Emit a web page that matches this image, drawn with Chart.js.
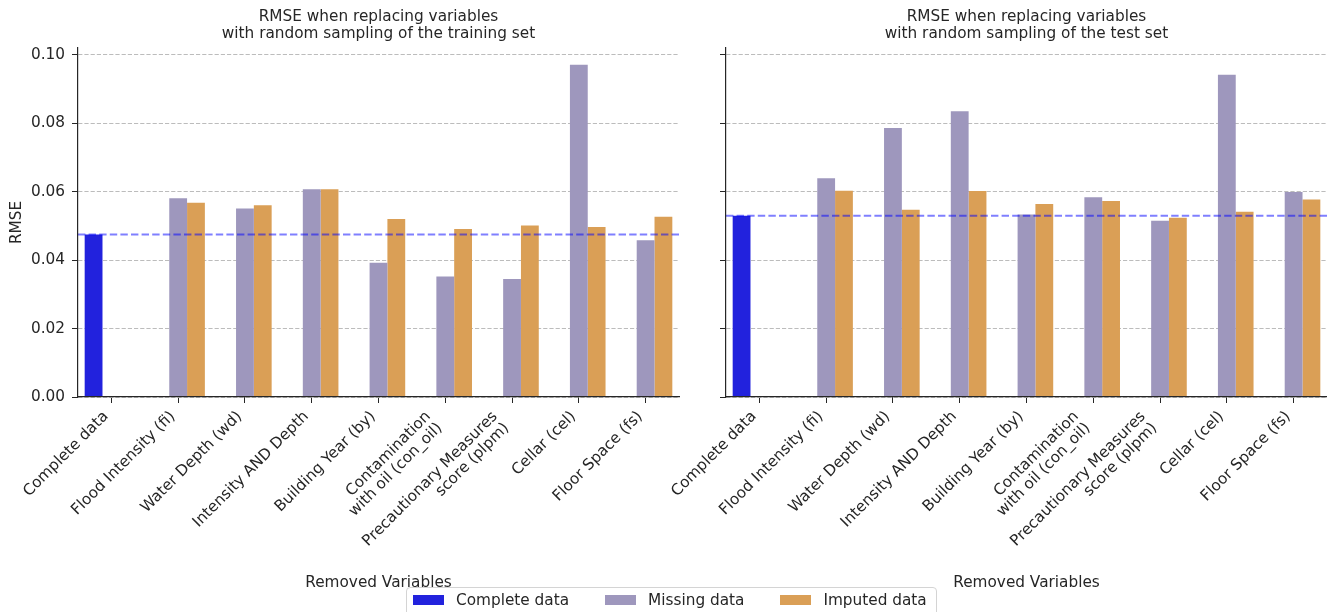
<!DOCTYPE html>
<html>
<head>
<meta charset="utf-8">
<script src="https://cdn.jsdelivr.net/npm/chart.js@4.4.0/dist/chart.umd.min.js"></script>
<style>
  html, body { margin: 0; padding: 0; background: #fff; }
  body { width: 1327px; height: 612px; overflow: hidden; position: relative; font-family: "DejaVu Sans", sans-serif; color: #262626; }
  canvas { position: absolute; top: 0; }
  #trainCanvas { left: 0; }
  #testCanvas { left: 560px; }
  #legend {
    position: absolute; left: 406px; top: 587px; width: 531px; height: 40px;
    box-sizing: border-box; border: 1px solid #d4d4d4; border-radius: 4px;
    background: rgba(255,255,255,0.8);
    display: flex; align-items: flex-start; padding: 3px 0 0 6px;
    font-size: 15.3px; line-height: 18px; white-space: nowrap;
  }
  .item { display: flex; align-items: center; margin-right: 36px; flex: 0 0 auto; white-space: nowrap; }
  .swatch { width: 31px; height: 10px; margin-right: 12px; flex: 0 0 auto; }
</style>
</head>
<body>
<canvas id="trainCanvas" width="690" height="612"></canvas>
<canvas id="testCanvas" width="767" height="612"></canvas>
<div id="legend"></div>
<script>
// Removed variables (x categories); multi-line names are split into lines
const categories = [
  ['Complete data'],
  ['Flood Intensity (fi)'],
  ['Water Depth (wd)'],
  ['Intensity AND Depth'],
  ['Building Year (by)'],
  ['Contamination', 'with oil (con_oil)'],
  ['Precautionary Measures', 'score (plpm)'],
  ['Cellar (cel)'],
  ['Floor Space (fs)']
];

// RMSE, random sampling from the training set
const trainComplete = [0.0475];
const trainMissing = [null, 0.0581, 0.0551, 0.0607, 0.0392, 0.0352, 0.0345, 0.0971, 0.0458];
const trainImputed = [null, 0.0568, 0.0560, 0.0607, 0.0520, 0.0491, 0.0501, 0.0497, 0.0527];

// RMSE, random sampling from the test set
const testComplete = [0.0530];
const testMissing = [null, 0.0639, 0.0786, 0.0835, 0.0533, 0.0584, 0.0515, 0.0942, 0.0599];
const testImputed = [null, 0.0603, 0.0547, 0.0602, 0.0564, 0.0573, 0.0524, 0.0541, 0.0577];

const yTickValues = [0, 0.02, 0.04, 0.06, 0.08, 0.10];
const seriesNames = ['Complete data', 'Missing data', 'Imputed data'];
const seriesColors = ['#2222dd', '#9e97bd', '#da9f56'];

const FONT = '"DejaVu Sans", sans-serif';
const FS = 15.3;
const INK = '#262626';
const Y_MAX = 0.102;

Chart.defaults.font.family = FONT;
Chart.defaults.font.size = FS;
Chart.defaults.color = INK;

// fill the "Complete data" series out to the category count
function padSeries(vals) {
  return categories.map((_, i) => (i < vals.length ? vals[i] : null));
}

// horizontal dashed reference at the complete-data RMSE
const refLine = {
  id: 'refLine',
  afterDatasetsDraw(chart, args, opts) {
    const { ctx, chartArea: { left, right }, scales: { y } } = chart;
    const py = y.getPixelForValue(opts.value);
    ctx.save();
    ctx.strokeStyle = 'rgba(0,0,255,0.5)';
    ctx.lineWidth = 2;
    ctx.setLineDash([7.4, 3.2]);
    ctx.beginPath();
    ctx.moveTo(left, py);
    ctx.lineTo(right, py);
    ctx.stroke();
    ctx.restore();
  }
};

// 45° category labels, right-aligned so each block ends at its tick
const slantedLabels = {
  id: 'slantedLabels',
  afterDraw(chart) {
    const { ctx, scales: { x }, chartArea } = chart;
    const lh = 16.3, desc = 0.236 * FS, k = Math.SQRT1_2;
    const top = chartArea.bottom + 10;
    ctx.save();
    ctx.font = FS + 'px ' + FONT;
    ctx.fillStyle = INK;
    ctx.textAlign = 'right';
    ctx.textBaseline = 'alphabetic';
    chart.data.labels.forEach((lines, i) => {
      const n = lines.length;
      const H = (n - 1) * lh + 1.16 * FS;
      const bx = x.getPixelForTick(i);
      const by = top + H * k;
      ctx.save();
      ctx.translate(bx, by);
      ctx.rotate(-Math.PI / 4);
      lines.forEach((t, j) => ctx.fillText(t, 0, -desc - (n - 1 - j) * lh));
      ctx.restore();
    });
    ctx.restore();
  }
};

function makeChart(canvasId, titleLines, complete, missing, imputed, showYLabels, yWidth, padRight) {
  const ctx = document.getElementById(canvasId);
  return new Chart(ctx, {
    type: 'bar',
    data: {
      labels: categories,
      datasets: [
        { label: seriesNames[0], data: padSeries(complete), backgroundColor: seriesColors[0] },
        { label: seriesNames[1], data: missing, backgroundColor: seriesColors[1] },
        { label: seriesNames[2], data: imputed, backgroundColor: seriesColors[2] }
      ]
    },
    options: {
      responsive: false,
      animation: false,
      devicePixelRatio: 1,
      categoryPercentage: 0.8,
      barPercentage: 1.0,
      layout: { padding: { top: 0, left: 0, right: padRight, bottom: 0 } },
      plugins: {
        legend: { display: false },
        tooltip: { enabled: false },
        title: {
          display: true,
          text: titleLines,
          fullSize: false,
          color: INK,
          font: { size: FS, weight: 'normal', lineHeight: 1.1 },
          padding: { top: 9, bottom: 5.3 }
        },
        refLine: { value: complete[0] }
      },
      scales: {
        x: {
          type: 'category',
          offset: true,
          grid: { display: true, drawOnChartArea: false, drawTicks: true, tickLength: 6, tickColor: INK, tickWidth: 1, offset: false },
          border: { display: true, color: INK, width: 1.2, z: 1 },
          ticks: { display: false },
          title: { display: true, text: 'Removed Variables', color: INK, font: { size: FS }, padding: { top: 0, bottom: 20 } },
          afterFit(scale) { scale.height = 215; }
        },
        y: {
          min: 0,
          max: Y_MAX,
          afterBuildTicks(scale) { scale.ticks = yTickValues.map(v => ({ value: v })); },
          grid: { display: true, color: '#bcbcbc', lineWidth: 1, drawTicks: true, tickLength: 6, tickColor: INK, tickWidth: 1 },
          border: { display: true, color: INK, width: 1.2, dash: [4.2, 2], z: 1 },
          ticks: {
            display: showYLabels,
            padding: 7,
            color: INK,
            font: { size: FS },
            callback: v => Number(v).toFixed(2)
          },
          title: { display: showYLabels, text: 'RMSE', color: INK, font: { size: FS }, padding: { top: 8, bottom: 0 } },
          afterFit(scale) { scale.width = yWidth; }
        }
      }
    },
    plugins: [refLine, slantedLabels]
  });
}

makeChart('trainCanvas',
  ['RMSE when replacing variables', 'with random sampling of the training set'],
  trainComplete, trainMissing, trainImputed, true, 78, 11);

makeChart('testCanvas',
  ['RMSE when replacing variables', 'with random sampling of the test set'],
  testComplete, testMissing, testImputed, false, 166, 0);

// shared legend below both panels
const legend = document.getElementById('legend');
seriesNames.forEach((name, i) => {
  const item = document.createElement('div');
  item.className = 'item';
  const sw = document.createElement('span');
  sw.className = 'swatch';
  sw.style.background = seriesColors[i];
  const label = document.createElement('span');
  label.textContent = name;
  item.appendChild(sw);
  item.appendChild(label);
  legend.appendChild(item);
});
</script>
</body>
</html>
